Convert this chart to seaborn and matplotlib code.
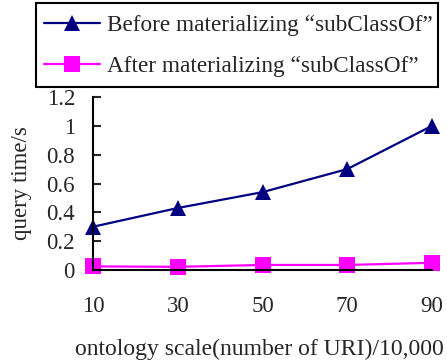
import matplotlib
matplotlib.use("Agg")
import matplotlib.pyplot as plt
from matplotlib.patches import Rectangle
import seaborn as sns
import pandas as pd

scale = [10, 30, 50, 70, 90]
before = [0.30, 0.43, 0.54, 0.70, 1.00]
after = [0.025, 0.022, 0.035, 0.035, 0.05]
labels = ["Before materializing \u201csubClassOf\u201d", "After materializing \u201csubClassOf\u201d"]

sns.set_style("white")
plt.rcParams["font.family"] = ["Liberation Serif", "DejaVu Serif"]
FS = 16.5
LFS = 16.75
W, H = 447, 364

df = pd.DataFrame({"scale": scale * 2, "time": before + after,
                   "series": [labels[0]] * 5 + [labels[1]] * 5})

fig = plt.figure(figsize=(W / 100, H / 100), dpi=100)
ax = fig.add_axes([93 / W, 1 - 270 / H, (432 - 93) / W, (270 - 97) / H])

sns.lineplot(data=df, x="scale", y="time", hue="series", style="series",
             palette=["#000080", "#FF00FF"], markers=["^", "s"], dashes=False,
             markersize=11, markeredgewidth=0, linewidth=1.6, ax=ax, clip_on=False)

ax.set_xlim(10, 90)
ax.set_ylim(0, 1.2)
ax.set_xticks(scale)
ax.set_yticks([0, 0.2, 0.4, 0.6, 0.8, 1.0, 1.2])
ax.set_yticklabels(["0", "0.2", "0.4", "0.6", "0.8", "1", "1.2"])
for s in ["top", "right"]:
    ax.spines[s].set_visible(False)
for s in ["left", "bottom"]:
    ax.spines[s].set_color("black")
    ax.spines[s].set_linewidth(1.5)
ax.tick_params(axis="y", direction="in", length=6, width=1.5, labelsize=FS, pad=13, left=True)
ax.tick_params(axis="x", length=0, labelsize=FS, pad=19)
ax.set_xlabel("ontology scale(number of URI)/10,000", fontsize=17)
ax.xaxis.set_label_coords(0.49, -0.40)
ax.set_ylabel("query time/s", fontsize=FS, labelpad=10)

# legend entries above the plot, inside a square-cornered box
handles, lbls = ax.get_legend_handles_labels()
fig.legend(handles, lbls, loc="upper left", bbox_to_anchor=(44 / W, 1 - 15 / H),
           frameon=False, fontsize=LFS, handlelength=2.4,
           borderpad=0, labelspacing=0.82, handletextpad=0.3, borderaxespad=0)
fig.patches.append(Rectangle((36 / W, 1 - 87 / H), (438 - 36) / W, (87 - 3) / H,
                             transform=fig.transFigure, fill=False,
                             edgecolor="black", linewidth=1.5))
if ax.get_legend():
    ax.get_legend().remove()

fig.savefig("out.png", dpi=100)
